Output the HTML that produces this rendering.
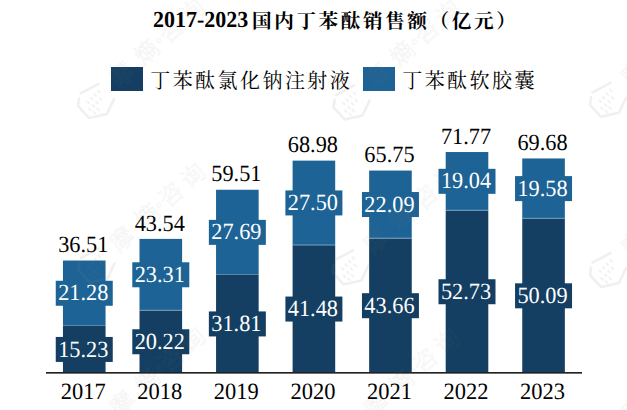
<!DOCTYPE html>
<html><head><meta charset="utf-8"><style>
html,body{margin:0;padding:0;background:#fff;}
body{width:627px;height:410px;overflow:hidden;position:relative;}
svg{position:absolute;left:0;top:0;}
.v{font-family:"Liberation Serif",serif;font-size:22.3px;text-anchor:middle;fill:#000;text-rendering:geometricPrecision;}
.yr{font-size:22.5px;}
.w{fill:#fff;}
.wm{font-family:"Noto Sans CJK SC",sans-serif;font-size:24px;font-weight:400;text-anchor:middle;fill:#808080;fill-opacity:0.05;stroke:#808080;stroke-opacity:0.07;stroke-width:0.9px;}
.t{font-family:"Liberation Serif",serif;font-size:22px;font-weight:bold;fill:#000;text-rendering:geometricPrecision;}
.tc{font-family:"Liberation Serif","Noto Serif CJK SC",serif;font-size:19.6px;font-weight:bold;letter-spacing:2.6px;fill:#000;}
.l{font-family:"Liberation Serif","Noto Serif CJK SC",serif;font-size:20px;letter-spacing:2.45px;fill:#000;}
</style></head><body>
<svg width="627" height="410" viewBox="0 0 627 410">
<text transform="translate(153,26.7) scale(1,1.04)" class="t">2017-2023</text>
<text x="252" y="27.8" class="tc">国内丁苯酞销售额（亿元）</text>
<rect x="111" y="67" width="32" height="24" fill="#143F62"/>
<text x="150.2" y="87.9" class="l">丁苯酞氯化钠注射液</text>
<rect x="363" y="67" width="32" height="24" fill="#1E6395"/>
<text x="402.2" y="87.9" class="l">丁苯酞软胶囊</text>
<rect x="62.95" y="326.01" width="42.6" height="46.86" fill="#143F62"/>
<rect x="62.95" y="260.53" width="42.6" height="65.48" fill="#1E6395"/>
<rect x="62.95" y="325.01" width="42.6" height="1" fill="#fff" fill-opacity="0.25"/>
<rect x="139.50" y="310.65" width="42.6" height="62.22" fill="#143F62"/>
<rect x="139.50" y="238.90" width="42.6" height="71.76" fill="#1E6395"/>
<rect x="139.50" y="309.65" width="42.6" height="1" fill="#fff" fill-opacity="0.25"/>
<rect x="216.05" y="274.99" width="42.6" height="97.88" fill="#143F62"/>
<rect x="216.05" y="189.76" width="42.6" height="85.23" fill="#1E6395"/>
<rect x="216.05" y="273.99" width="42.6" height="1" fill="#fff" fill-opacity="0.25"/>
<rect x="292.60" y="245.24" width="42.6" height="127.63" fill="#143F62"/>
<rect x="292.60" y="160.62" width="42.6" height="84.62" fill="#1E6395"/>
<rect x="292.60" y="244.24" width="42.6" height="1" fill="#fff" fill-opacity="0.25"/>
<rect x="369.15" y="238.53" width="42.6" height="134.34" fill="#143F62"/>
<rect x="369.15" y="170.56" width="42.6" height="67.97" fill="#1E6395"/>
<rect x="369.15" y="237.53" width="42.6" height="1" fill="#fff" fill-opacity="0.25"/>
<rect x="445.70" y="210.62" width="42.6" height="162.25" fill="#143F62"/>
<rect x="445.70" y="152.03" width="42.6" height="58.59" fill="#1E6395"/>
<rect x="445.70" y="209.62" width="42.6" height="1" fill="#fff" fill-opacity="0.25"/>
<rect x="522.25" y="218.74" width="42.6" height="154.13" fill="#143F62"/>
<rect x="522.25" y="158.46" width="42.6" height="60.28" fill="#1E6395"/>
<rect x="522.25" y="217.74" width="42.6" height="1" fill="#fff" fill-opacity="0.25"/>
<rect x="55.75" y="336.94" width="57" height="25" fill="#143F62"/>
<text transform="translate(83.25,356.54) scale(1,1.04)" class="v w">15.23</text>
<rect x="55.75" y="280.77" width="57" height="25" fill="#1E6395"/>
<text transform="translate(83.25,300.37) scale(1,1.04)" class="v w">21.28</text>
<text transform="translate(83.25,252.23) scale(1,1.04)" class="v">36.51</text>
<text transform="translate(83.25,399.00) scale(1,1.04)" class="v yr">2017</text>
<rect x="132.30" y="329.26" width="57" height="25" fill="#143F62"/>
<text transform="translate(159.80,348.86) scale(1,1.04)" class="v w">20.22</text>
<rect x="132.30" y="262.28" width="57" height="25" fill="#1E6395"/>
<text transform="translate(159.80,281.88) scale(1,1.04)" class="v w">23.31</text>
<text transform="translate(159.80,230.60) scale(1,1.04)" class="v">43.54</text>
<text transform="translate(159.80,399.00) scale(1,1.04)" class="v yr">2018</text>
<rect x="208.85" y="311.43" width="57" height="25" fill="#143F62"/>
<text transform="translate(236.35,331.03) scale(1,1.04)" class="v w">31.81</text>
<rect x="208.85" y="219.87" width="57" height="25" fill="#1E6395"/>
<text transform="translate(236.35,239.47) scale(1,1.04)" class="v w">27.69</text>
<text transform="translate(236.35,181.46) scale(1,1.04)" class="v">59.51</text>
<text transform="translate(236.35,399.00) scale(1,1.04)" class="v yr">2019</text>
<rect x="285.40" y="296.55" width="57" height="25" fill="#143F62"/>
<text transform="translate(312.90,316.15) scale(1,1.04)" class="v w">41.48</text>
<rect x="285.40" y="190.43" width="57" height="25" fill="#1E6395"/>
<text transform="translate(312.90,210.03) scale(1,1.04)" class="v w">27.50</text>
<text transform="translate(312.90,152.32) scale(1,1.04)" class="v">68.98</text>
<text transform="translate(312.90,399.00) scale(1,1.04)" class="v yr">2020</text>
<rect x="361.95" y="293.20" width="57" height="25" fill="#143F62"/>
<text transform="translate(389.45,312.80) scale(1,1.04)" class="v w">43.66</text>
<rect x="361.95" y="192.04" width="57" height="25" fill="#1E6395"/>
<text transform="translate(389.45,211.64) scale(1,1.04)" class="v w">22.09</text>
<text transform="translate(389.45,162.26) scale(1,1.04)" class="v">65.75</text>
<text transform="translate(389.45,399.00) scale(1,1.04)" class="v yr">2021</text>
<rect x="438.50" y="279.24" width="57" height="25" fill="#143F62"/>
<text transform="translate(466.00,298.84) scale(1,1.04)" class="v w">52.73</text>
<rect x="438.50" y="168.83" width="57" height="25" fill="#1E6395"/>
<text transform="translate(466.00,188.43) scale(1,1.04)" class="v w">19.04</text>
<text transform="translate(466.00,143.73) scale(1,1.04)" class="v">71.77</text>
<text transform="translate(466.00,399.00) scale(1,1.04)" class="v yr">2022</text>
<rect x="515.05" y="283.31" width="57" height="25" fill="#143F62"/>
<text transform="translate(542.55,302.91) scale(1,1.04)" class="v w">50.09</text>
<rect x="515.05" y="176.10" width="57" height="25" fill="#1E6395"/>
<text transform="translate(542.55,195.70) scale(1,1.04)" class="v w">19.58</text>
<text transform="translate(542.55,150.16) scale(1,1.04)" class="v">69.68</text>
<text transform="translate(542.55,399.00) scale(1,1.04)" class="v yr">2023</text>
<rect x="46" y="372" width="536" height="1" fill="#222"/>
<g transform="translate(96.0,101.5)"><path d="M2.5,-17.6 L-15.5,-8.1 M-17,-3.1 L-18,4.4 L-7,16.4 L11,12.4 L18,-2.6" fill="none" stroke="#808080" stroke-opacity="0.12" stroke-width="2.6" stroke-linejoin="round" stroke-linecap="round"/><path transform="rotate(-45)" d="M-6,-6.2L-6,-3.8M-1,-6.2L-1,-3.8M4,-6.2L4,-3.8M9,-6.2L9,-3.8M-10,0.30000000000000004L-10,2.7M-5,0.30000000000000004L-5,2.7M0,0.30000000000000004L0,2.7M5,0.30000000000000004L5,2.7M-9,5.8L-9,8.2M-4,5.8L-4,8.2" fill="none" stroke="#808080" stroke-opacity="0.10" stroke-width="2" stroke-linecap="round"/></g><g transform="translate(121.0,74.0) rotate(-42.0)"><text x="0" y="9.3" class="wm">摩</text><text x="33.9" y="9.3" class="wm">熵</text><text x="50.2" y="9.3" class="wm">·</text><text x="66.3" y="9.3" class="wm">咨</text><text x="95" y="9.3" class="wm">询</text></g>
<g transform="translate(351.6,103.0)"><path d="M2.5,-17.6 L-15.5,-8.1 M-17,-3.1 L-18,4.4 L-7,16.4 L11,12.4 L18,-2.6" fill="none" stroke="#808080" stroke-opacity="0.12" stroke-width="2.6" stroke-linejoin="round" stroke-linecap="round"/><path transform="rotate(-45)" d="M-6,-6.2L-6,-3.8M-1,-6.2L-1,-3.8M4,-6.2L4,-3.8M9,-6.2L9,-3.8M-10,0.30000000000000004L-10,2.7M-5,0.30000000000000004L-5,2.7M0,0.30000000000000004L0,2.7M5,0.30000000000000004L5,2.7M-9,5.8L-9,8.2M-4,5.8L-4,8.2" fill="none" stroke="#808080" stroke-opacity="0.10" stroke-width="2" stroke-linecap="round"/></g><g transform="translate(376.6,75.5) rotate(-42.0)"><text x="0" y="9.3" class="wm">摩</text><text x="33.9" y="9.3" class="wm">熵</text><text x="50.2" y="9.3" class="wm">·</text><text x="66.3" y="9.3" class="wm">咨</text><text x="95" y="9.3" class="wm">询</text></g>
<g transform="translate(608.0,100.4)"><path d="M2.5,-17.6 L-15.5,-8.1 M-17,-3.1 L-18,4.4 L-7,16.4 L11,12.4 L18,-2.6" fill="none" stroke="#808080" stroke-opacity="0.12" stroke-width="2.6" stroke-linejoin="round" stroke-linecap="round"/><path transform="rotate(-45)" d="M-6,-6.2L-6,-3.8M-1,-6.2L-1,-3.8M4,-6.2L4,-3.8M9,-6.2L9,-3.8M-10,0.30000000000000004L-10,2.7M-5,0.30000000000000004L-5,2.7M0,0.30000000000000004L0,2.7M5,0.30000000000000004L5,2.7M-9,5.8L-9,8.2M-4,5.8L-4,8.2" fill="none" stroke="#808080" stroke-opacity="0.10" stroke-width="2" stroke-linecap="round"/></g><g transform="translate(633.0,72.9) rotate(-42.0)"><text x="0" y="9.3" class="wm">摩</text><text x="33.9" y="9.3" class="wm">熵</text><text x="50.2" y="9.3" class="wm">·</text><text x="66.3" y="9.3" class="wm">咨</text><text x="95" y="9.3" class="wm">询</text></g>
<g transform="translate(96.5,266.0)"><path d="M2.5,-17.6 L-15.5,-8.1 M-17,-3.1 L-18,4.4 L-7,16.4 L11,12.4 L18,-2.6" fill="none" stroke="#808080" stroke-opacity="0.12" stroke-width="2.6" stroke-linejoin="round" stroke-linecap="round"/><path transform="rotate(-45)" d="M-6,-6.2L-6,-3.8M-1,-6.2L-1,-3.8M4,-6.2L4,-3.8M9,-6.2L9,-3.8M-10,0.30000000000000004L-10,2.7M-5,0.30000000000000004L-5,2.7M0,0.30000000000000004L0,2.7M5,0.30000000000000004L5,2.7M-9,5.8L-9,8.2M-4,5.8L-4,8.2" fill="none" stroke="#808080" stroke-opacity="0.10" stroke-width="2" stroke-linecap="round"/></g><g transform="translate(121.5,238.5) rotate(-42.0)"><text x="0" y="9.3" class="wm">摩</text><text x="33.9" y="9.3" class="wm">熵</text><text x="50.2" y="9.3" class="wm">·</text><text x="66.3" y="9.3" class="wm">咨</text><text x="95" y="9.3" class="wm">询</text></g>
<g transform="translate(350.5,268.0)"><path d="M2.5,-17.6 L-15.5,-8.1 M-17,-3.1 L-18,4.4 L-7,16.4 L11,12.4 L18,-2.6" fill="none" stroke="#808080" stroke-opacity="0.12" stroke-width="2.6" stroke-linejoin="round" stroke-linecap="round"/><path transform="rotate(-45)" d="M-6,-6.2L-6,-3.8M-1,-6.2L-1,-3.8M4,-6.2L4,-3.8M9,-6.2L9,-3.8M-10,0.30000000000000004L-10,2.7M-5,0.30000000000000004L-5,2.7M0,0.30000000000000004L0,2.7M5,0.30000000000000004L5,2.7M-9,5.8L-9,8.2M-4,5.8L-4,8.2" fill="none" stroke="#808080" stroke-opacity="0.10" stroke-width="2" stroke-linecap="round"/></g><g transform="translate(375.5,240.5) rotate(-42.0)"><text x="0" y="9.3" class="wm">摩</text><text x="33.9" y="9.3" class="wm">熵</text><text x="50.2" y="9.3" class="wm">·</text><text x="66.3" y="9.3" class="wm">咨</text><text x="95" y="9.3" class="wm">询</text></g>
<g transform="translate(608.0,270.6)"><path d="M2.5,-17.6 L-15.5,-8.1 M-17,-3.1 L-18,4.4 L-7,16.4 L11,12.4 L18,-2.6" fill="none" stroke="#808080" stroke-opacity="0.12" stroke-width="2.6" stroke-linejoin="round" stroke-linecap="round"/><path transform="rotate(-45)" d="M-6,-6.2L-6,-3.8M-1,-6.2L-1,-3.8M4,-6.2L4,-3.8M9,-6.2L9,-3.8M-10,0.30000000000000004L-10,2.7M-5,0.30000000000000004L-5,2.7M0,0.30000000000000004L0,2.7M5,0.30000000000000004L5,2.7M-9,5.8L-9,8.2M-4,5.8L-4,8.2" fill="none" stroke="#808080" stroke-opacity="0.10" stroke-width="2" stroke-linecap="round"/></g><g transform="translate(633.0,243.1) rotate(-42.0)"><text x="0" y="9.3" class="wm">摩</text><text x="33.9" y="9.3" class="wm">熵</text><text x="50.2" y="9.3" class="wm">·</text><text x="66.3" y="9.3" class="wm">咨</text><text x="95" y="9.3" class="wm">询</text></g>
<g transform="translate(96.5,430.5)"><path d="M2.5,-17.6 L-15.5,-8.1 M-17,-3.1 L-18,4.4 L-7,16.4 L11,12.4 L18,-2.6" fill="none" stroke="#808080" stroke-opacity="0.12" stroke-width="2.6" stroke-linejoin="round" stroke-linecap="round"/><path transform="rotate(-45)" d="M-6,-6.2L-6,-3.8M-1,-6.2L-1,-3.8M4,-6.2L4,-3.8M9,-6.2L9,-3.8M-10,0.30000000000000004L-10,2.7M-5,0.30000000000000004L-5,2.7M0,0.30000000000000004L0,2.7M5,0.30000000000000004L5,2.7M-9,5.8L-9,8.2M-4,5.8L-4,8.2" fill="none" stroke="#808080" stroke-opacity="0.10" stroke-width="2" stroke-linecap="round"/></g><g transform="translate(121.5,403.0) rotate(-42.0)"><text x="0" y="9.3" class="wm">摩</text><text x="33.9" y="9.3" class="wm">熵</text><text x="50.2" y="9.3" class="wm">·</text><text x="66.3" y="9.3" class="wm">咨</text><text x="95" y="9.3" class="wm">询</text></g>
<g transform="translate(350.5,432.0)"><path d="M2.5,-17.6 L-15.5,-8.1 M-17,-3.1 L-18,4.4 L-7,16.4 L11,12.4 L18,-2.6" fill="none" stroke="#808080" stroke-opacity="0.12" stroke-width="2.6" stroke-linejoin="round" stroke-linecap="round"/><path transform="rotate(-45)" d="M-6,-6.2L-6,-3.8M-1,-6.2L-1,-3.8M4,-6.2L4,-3.8M9,-6.2L9,-3.8M-10,0.30000000000000004L-10,2.7M-5,0.30000000000000004L-5,2.7M0,0.30000000000000004L0,2.7M5,0.30000000000000004L5,2.7M-9,5.8L-9,8.2M-4,5.8L-4,8.2" fill="none" stroke="#808080" stroke-opacity="0.10" stroke-width="2" stroke-linecap="round"/></g><g transform="translate(375.5,404.5) rotate(-42.0)"><text x="0" y="9.3" class="wm">摩</text><text x="33.9" y="9.3" class="wm">熵</text><text x="50.2" y="9.3" class="wm">·</text><text x="66.3" y="9.3" class="wm">咨</text><text x="95" y="9.3" class="wm">询</text></g>
<g transform="translate(608.0,436.0)"><path d="M2.5,-17.6 L-15.5,-8.1 M-17,-3.1 L-18,4.4 L-7,16.4 L11,12.4 L18,-2.6" fill="none" stroke="#808080" stroke-opacity="0.12" stroke-width="2.6" stroke-linejoin="round" stroke-linecap="round"/><path transform="rotate(-45)" d="M-6,-6.2L-6,-3.8M-1,-6.2L-1,-3.8M4,-6.2L4,-3.8M9,-6.2L9,-3.8M-10,0.30000000000000004L-10,2.7M-5,0.30000000000000004L-5,2.7M0,0.30000000000000004L0,2.7M5,0.30000000000000004L5,2.7M-9,5.8L-9,8.2M-4,5.8L-4,8.2" fill="none" stroke="#808080" stroke-opacity="0.10" stroke-width="2" stroke-linecap="round"/></g><g transform="translate(633.0,408.5) rotate(-42.0)"><text x="0" y="9.3" class="wm">摩</text><text x="33.9" y="9.3" class="wm">熵</text><text x="50.2" y="9.3" class="wm">·</text><text x="66.3" y="9.3" class="wm">咨</text><text x="95" y="9.3" class="wm">询</text></g>
<rect x="46" y="373" width="536" height="1" fill="#222" fill-opacity="0.65"/>
</svg>
</body></html>
